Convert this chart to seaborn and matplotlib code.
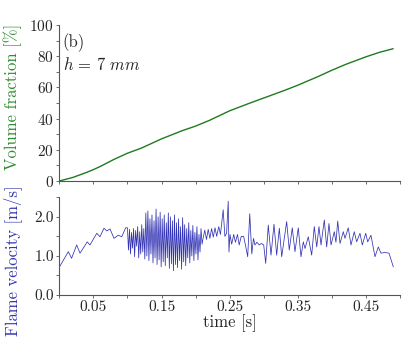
import numpy as np
import pandas as pd
import matplotlib
matplotlib.use("Agg")
import matplotlib.pyplot as plt
import seaborn as sns
from matplotlib.ticker import MultipleLocator, FixedLocator, FormatStrFormatter

# volume fraction (top panel)
vf_time = [0, 0.02, 0.04, 0.05, 0.06, 0.08, 0.10, 0.12, 0.15, 0.18, 0.20, 0.22,
           0.25, 0.28, 0.30, 0.33, 0.35, 0.38, 0.40, 0.42, 0.45, 0.47, 0.49]
vf_value = [0, 2.3, 5.5, 7.3, 9.3, 13.8, 17.8, 21.0, 27.0, 32.2, 35.2, 38.8,
            45.0, 50.0, 53.2, 58.0, 61.4, 67.0, 71.0, 74.7, 79.6, 82.5, 84.8]

# flame velocity (bottom panel): peaks and troughs
fv_time = [
    0.001, 0.0132, 0.018, 0.0255, 0.0304, 0.041, 0.045, 0.055, 0.0597, 0.0656,
    0.0696, 0.0744, 0.0803, 0.0866, 0.0916, 0.0974,
    0.1000, 0.1015, 0.1030, 0.1045, 0.1060, 0.1075, 0.1090, 0.1105, 0.1120, 0.1135,
    0.1150, 0.1165, 0.1180, 0.1195, 0.1210, 0.1225, 0.1240, 0.1255, 0.1270, 0.1285,
    0.1300, 0.1315, 0.1330, 0.1345, 0.1360, 0.1375, 0.1390, 0.1405, 0.1420, 0.1435,
    0.1450, 0.1465, 0.1480, 0.1495, 0.1510, 0.1525, 0.1540, 0.1555, 0.1570, 0.1585,
    0.1600, 0.1615, 0.1630, 0.1645, 0.1660, 0.1675, 0.1690, 0.1705, 0.1720, 0.1735,
    0.1750, 0.1765, 0.1780, 0.1795, 0.1810, 0.1825, 0.1840, 0.1855, 0.1870, 0.1885,
    0.1900, 0.1915, 0.1930, 0.1945, 0.1960, 0.1975, 0.1990, 0.2005, 0.2020, 0.2035,
    0.2050, 0.2065, 0.2080, 0.2095,
    0.2110, 0.2135, 0.2160, 0.2185, 0.2210, 0.2235, 0.2260, 0.2285, 0.2310, 0.2340,
    0.2365, 0.2405, 0.2430, 0.2455, 0.2479, 0.2490, 0.2505, 0.2530, 0.2560, 0.2585,
    0.2615, 0.2640, 0.2670, 0.2705, 0.2735, 0.2765, 0.2795, 0.2825, 0.2850, 0.2872,
    0.2900, 0.2935, 0.2965, 0.3000, 0.3029, 0.3067, 0.3107, 0.3151, 0.3190, 0.3229,
    0.3264, 0.3337, 0.3375, 0.3419, 0.3459, 0.3507, 0.3547, 0.3581, 0.3606, 0.3654,
    0.3704, 0.3742, 0.3778, 0.3811, 0.3841, 0.3889, 0.3924, 0.3958, 0.3988, 0.4036,
    0.4060, 0.4086, 0.4120, 0.4168, 0.4193, 0.4241, 0.4281, 0.4329, 0.4364, 0.4413,
    0.4447, 0.4497, 0.4526, 0.4574, 0.4633, 0.4682, 0.4721, 0.4780, 0.4839, 0.4902,
]
fv_value = [
    0.74, 1.11, 0.94, 1.28, 1.07, 1.36, 1.28, 1.58, 1.49, 1.71,
    1.64, 1.69, 1.45, 1.53, 1.49, 1.72,
    1.72, 1.15, 1.68, 1.05, 1.60, 1.20, 1.70, 0.98, 1.65, 1.25,
    1.75, 0.95, 1.62, 1.05, 1.80, 1.10, 1.70, 0.92, 2.10, 1.00,
    2.15, 0.88, 1.95, 1.05, 2.05, 0.82, 1.90, 0.95, 2.20, 0.78,
    2.00, 0.90, 2.12, 0.72, 1.95, 0.85, 2.05, 0.75, 1.85, 0.95,
    2.10, 0.68, 2.00, 0.80, 1.90, 0.62, 2.05, 0.78, 1.85, 0.70,
    1.95, 0.88, 1.75, 0.66, 1.98, 0.85, 1.80, 0.75, 1.70, 0.95,
    1.85, 0.82, 1.65, 1.00, 1.78, 0.88, 1.60, 1.05, 1.75, 0.90,
    1.55, 1.10, 1.70, 1.30,
    1.45, 1.66, 1.42, 1.68, 1.45, 1.70, 1.48, 1.72, 1.50, 1.75,
    1.55, 2.18, 1.50, 1.58, 2.40, 1.10, 1.55, 1.30, 1.55, 1.35,
    1.55, 1.28, 1.50, 1.50, 1.25, 0.98, 2.08, 1.05, 1.45, 1.28,
    1.35, 1.28, 1.32, 1.28, 0.81, 1.79, 1.02, 1.81, 1.02, 1.71,
    0.98, 1.88, 1.15, 1.72, 1.11, 1.72, 0.98, 1.36, 1.19, 1.49,
    1.02, 1.75, 1.23, 1.75, 1.28, 1.92, 1.23, 1.83, 1.28, 1.62,
    1.35, 1.89, 1.32, 1.62, 1.45, 1.72, 1.28, 1.62, 1.36, 1.58,
    1.28, 1.58, 1.36, 1.53, 0.98, 1.23, 1.07, 1.09, 1.07, 0.72,
]

sns.set_theme(style="ticks")
plt.rcParams["font.family"] = ["cmr10", "DejaVu Serif"]
plt.rcParams["mathtext.fontset"] = "cm"
plt.rcParams["axes.formatter.use_mathtext"] = True
plt.rcParams["font.size"] = 11

vf = pd.DataFrame({"time": vf_time, "vf": vf_value})
fv = pd.DataFrame({"time": fv_time, "fv": fv_value})

fig = plt.figure(figsize=(4.11, 3.43), dpi=100)
ax1 = fig.add_axes([0.1443, 0.4723, 0.8289, 0.4548])
ax2 = fig.add_axes([0.1443, 0.1399, 0.8289, 0.2849])

sns.lineplot(data=vf, x="time", y="vf", ax=ax1, color="#1e7b1e", lw=1.0)
sns.lineplot(data=fv, x="time", y="fv", ax=ax2, color="#3232b4", lw=0.55)

for ax in (ax1, ax2):
    ax.set_xlim(0, 0.5)
    ax.xaxis.set_major_locator(FixedLocator([0.05, 0.15, 0.25, 0.35, 0.45]))
    ax.xaxis.set_minor_locator(FixedLocator([0, 0.1, 0.2, 0.3, 0.4, 0.5]))
    for s in ("top", "right"):
        ax.spines[s].set_visible(False)
    for s in ("left", "bottom"):
        ax.spines[s].set_color("#555555")
        ax.spines[s].set_linewidth(0.8)
    ax.tick_params(which="both", direction="out", length=2.5, width=0.6,
                   color="#555555", labelsize=11, pad=1.5)

ax1.set_ylim(0, 100)
ax1.yaxis.set_major_locator(MultipleLocator(20))
ax1.yaxis.set_minor_locator(MultipleLocator(10))
ax1.tick_params(axis="x", labelbottom=False)
ax1.set_xlabel("")
ax1.set_ylabel("Volume fraction [%]", color="#2e8b2e", fontsize=12)
ax1.yaxis.set_label_coords(-0.11, 0.54)
ax1.text(0.01, 0.95, "(b)", transform=ax1.transAxes, fontsize=12, va="top")
ax1.text(0.01, 0.80, r"$h\,=\,7\ mm$", transform=ax1.transAxes, fontsize=12, va="top")

ax2.set_ylim(0, 2.5)
ax2.yaxis.set_major_locator(MultipleLocator(1.0))
ax2.yaxis.set_minor_locator(MultipleLocator(0.5))
ax2.yaxis.set_major_formatter(FormatStrFormatter("%.1f"))
ax2.xaxis.set_major_formatter(FormatStrFormatter("%.2f"))
ax2.set_xlabel("time [s]", fontsize=12, labelpad=0)
ax2.set_ylabel("Flame velocity [m/s]", color="#3535b0", fontsize=12)
ax2.yaxis.set_label_coords(-0.11, 0.35)

fig.savefig("out.png", dpi=100)
